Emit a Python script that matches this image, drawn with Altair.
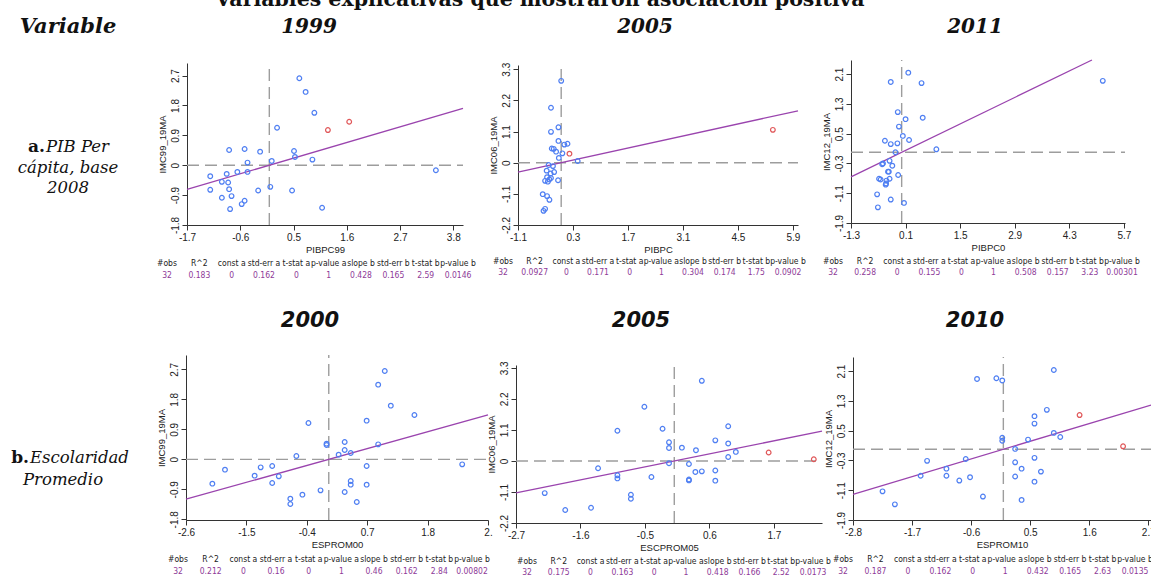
import altair as alt
import pandas as pd

# ---------------- data ----------------
HEADERS = ["#obs", "R^2", "const a", "std-err a", "t-stat a", "p-value a",
           "slope b", "std-err b", "t-stat b", "p-value b"]

MAIN_TITLE = "Variables explicativas que mostraron asociación positiva"
ROW1_YEARS = ["1999", "2005", "2011"]
ROW2_YEARS = ["2000", "2005", "2010"]

# Panel 1  (PIB 1999)
p1_x = [0.62, 0.75, 0.93, 1.65, 1.21, 0.16, -0.83, -0.51, -0.19, 0.51, 0.53, 0.89, 0.05, -0.45,
        -0.66, -0.45, -0.88, -1.22, -0.98, -0.85, -0.83, -1.22, -0.23, 0.02, 0.47, -0.98, -0.78,
        -0.51, -0.57, -0.81, 1.09, 3.44]
p1_y = [2.62, 2.21, 1.58, 1.31, 1.06, 1.13, 0.46, 0.49, 0.41, 0.43, 0.25, 0.17, 0.13, 0.08,
        -0.20, -0.20, -0.26, -0.33, -0.50, -0.52, -0.72, -0.74, -0.76, -0.65, -0.76, -0.98, -0.93,
        -1.07, -1.17, -1.32, -1.28, -0.15]
p1_red = [3, 4]
p1_stats = ["32", "0.183", "0", "0.162", "0", "1", "0.428", "0.165", "2.59", "0.0146"]

# Panel 2  (PIB 2005)
p2_x = [0.0, -0.26, -0.07, -0.26, -0.07, 0.16, 0.08, -0.24, -0.19, -0.13, 0.03, -0.06, 0.21, 0.42,
        -0.32, -0.21, -0.37, -0.18, -0.27, -0.36, -0.26, -0.30, -0.41, -0.34, -0.08, -0.47, -0.36,
        -0.30, -0.41, -0.45, 5.39]
p2_y = [2.89, 1.94, 1.25, 1.09, 0.77, 0.67, 0.64, 0.50, 0.49, 0.39, 0.33, 0.17, 0.32, 0.06,
        -0.08, -0.12, -0.28, -0.33, -0.38, -0.51, -0.54, -0.59, -0.64, -0.67, -0.62, -1.11, -1.18,
        -1.31, -1.63, -1.70, 1.16]
p2_red = [12, 30]
p2_stats = ["32", "0.0927", "0", "0.171", "0", "1", "0.304", "0.174", "1.75", "0.0902"]

# Panel 3  (PIB 2011)
p3_x = [0.17, -0.28, 0.51, 5.16, -0.10, 0.10, 0.54, -0.07, 0.03, -0.43, -0.28, -0.11, 0.19, 0.89,
        -0.16, -0.31, -0.48, -0.50, -0.24, -0.35, -0.33, -0.09, -0.58, -0.54, -0.31, -0.39, -0.40,
        -0.41, -0.63, -0.28, 0.06, -0.61]
p3_y = [2.14, 1.89, 1.86, 1.92, 1.08, 0.89, 0.93, 0.69, 0.44, 0.31, 0.22, 0.24, 0.33, 0.08,
        0.0, -0.23, -0.30, -0.32, -0.36, -0.52, -0.52, -0.61, -0.71, -0.73, -0.71, -0.76, -0.84,
        -0.87, -1.13, -1.27, -1.36, -1.48]
p3_red = []
p3_stats = ["32", "0.258", "0", "0.155", "0", "1", "0.508", "0.157", "3.23", "0.00301"]

# Panel 4  (Escolaridad 2000)
p4_x = [1.02, 0.90, 1.13, 1.56, 0.69, -0.37, 0.29, -0.04, -0.04, 0.90, 0.29, 0.40, 0.18, -0.59,
        -1.89, -1.24, -1.03, 0.69, -1.35, -0.91, -1.03, -2.12, 0.40, 0.40, 0.69, -0.15, 0.29,
        -0.48, -0.70, -0.70, 0.51, 2.43]
p4_y = [2.65, 2.24, 1.61, 1.33, 1.16, 1.09, 0.52, 0.47, 0.43, 0.45, 0.28, 0.19, 0.14, 0.10,
        -0.31, -0.24, -0.20, -0.20, -0.49, -0.51, -0.71, -0.73, -0.65, -0.76, -0.76, -0.93, -0.98,
        -1.06, -1.18, -1.34, -1.28, -0.15]
p4_red = []
p4_stats = ["32", "0.212", "0", "0.16", "0", "1", "0.46", "0.162", "2.84", "0.00802"]

# Panel 5  (Escolaridad 2005)
p5_x = [0.47, -0.51, -0.97, -0.20, 0.92, -0.09, -0.09, 0.13, 0.70, 0.92, 0.37, 0.92, 1.05, 1.61,
        -0.09, 0.25, -1.30, 0.36, 0.47, 0.70, -0.97, -0.97, -0.39, 0.25, 0.25, 0.70, -0.74, -0.74,
        -2.21, -1.42, -1.86, 2.38]
p5_y = [2.84, 1.92, 1.07, 1.14, 1.23, 0.66, 0.46, 0.47, 0.73, 0.62, 0.38, 0.14, 0.32, 0.30,
        -0.08, -0.11, -0.26, -0.39, -0.37, -0.34, -0.51, -0.62, -0.57, -0.66, -0.69, -0.70, -1.20,
        -1.34, -1.14, -1.66, -1.74, 0.06]
p5_red = [13, 31]
p5_stats = ["32", "0.175", "0", "0.163", "0", "1", "0.418", "0.166", "2.52", "0.0173"]

# Panel 6  (Escolaridad 2010)
p6_x = [0.94, -0.49, -0.13, -0.02, 0.81, 0.58, 0.58, -0.02, -0.02, 0.46, 0.94, 1.06, 1.42, 2.23,
        0.22, 0.58, -0.70, -1.42, 0.22, -1.06, 0.34, 0.70, -1.54, -1.06, 0.22, -0.62, -0.82, 0.58,
        -2.25, -0.38, 0.34, -2.02]
p6_y = [2.13, 1.89, 1.91, 1.85, 1.06, 0.89, 0.69, 0.31, 0.23, 0.26, 0.44, 0.33, 0.92, 0.08,
        0.01, -0.23, -0.26, -0.31, -0.35, -0.52, -0.52, -0.60, -0.71, -0.71, -0.73, -0.75, -0.84,
        -0.87, -1.13, -1.27, -1.36, -1.48]
p6_red = [12, 13]
p6_stats = ["32", "0.187", "0", "0.162", "0", "1", "0.432", "0.165", "2.63", "0.0135"]

# ---------------- styling ----------------
W, H = 1151, 576
BLUE = "#4f7ff2"
RED = "#e0585a"
PURPLE = "#9a44ae"
VALCOL = "#8e3a98"
DASH = "#9d9d9d"
SANS = "Liberation Sans"
NARROW = "Liberation Sans Narrow, DejaVu Sans Condensed, Liberation Sans"
SERIF = "DejaVu Serif"
LABEL_EXPR = "'' + datum.value"


def panel(xs, ys, reds, xdom, ydom, xticks, yticks, xtitle, ytitle, slope, stats,
          box, tbox, xlabel_expr=LABEL_EXPR):
    """box = (left, right, top, bottom) pixel area of the plot; tbox = (x0, x1, yh, yv)."""
    left, right, top, bottom = box
    cols = [RED if i in reds else BLUE for i in range(len(xs))]
    df = pd.DataFrame({"x": xs, "y": ys, "c": cols})
    xs_ = alt.Scale(domain=xdom, range=[left, right], nice=False, zero=False)
    ys_ = alt.Scale(domain=ydom, range=[bottom, top], nice=False, zero=False)
    xaxis = alt.Axis(values=xticks, title=xtitle, orient="bottom", offset=bottom - H,
                     labelExpr=xlabel_expr, tickSize=5, labelPadding=2, titlePadding=2,
                     labelFlush=False, labelOverlap=False)
    yaxis = alt.Axis(values=yticks, title=ytitle, orient="left", offset=-left,
                     labelExpr=LABEL_EXPR, tickSize=5, labelAngle=270, labelAlign="center",
                     labelBaseline="bottom", labelPadding=2, titlePadding=3,
                     labelFlush=False, labelOverlap=False)
    X = lambda f: alt.X(f, scale=xs_, axis=xaxis)
    Y = lambda f: alt.Y(f, scale=ys_, axis=yaxis)

    pts = alt.Chart(df).mark_point(shape="circle", filled=False, size=22, strokeWidth=1.2,
                                   opacity=1).encode(
        x=X("x:Q"), y=Y("y:Q"), color=alt.Color("c:N", scale=None))
    hline = alt.Chart(pd.DataFrame({"x": [xdom[0]], "x2": [xdom[1]], "y": [0.0]})).mark_rule(
        strokeDash=[12, 6], color=DASH, strokeWidth=1.4).encode(
        x=X("x:Q"), x2="x2:Q", y=Y("y:Q"))
    vline = alt.Chart(pd.DataFrame({"x": [0.0], "y": [ydom[0]], "y2": [ydom[1]]})).mark_rule(
        strokeDash=[12, 6], color=DASH, strokeWidth=1.4).encode(
        x=X("x:Q"), y=Y("y:Q"), y2="y2:Q")
    x_end = min(xdom[1], ydom[1] / slope)
    reg = alt.Chart(pd.DataFrame({"x": [xdom[0], x_end]})).transform_calculate(
        y=f"{slope} * datum.x").mark_line(color=PURPLE, strokeWidth=1.3).encode(
        x=X("x:Q"), y=Y("y:Q"))
    inner = alt.layer(hline, vline, reg, pts)

    tdf = pd.DataFrame({"k": HEADERS, "v": stats})
    tx = alt.X("k:N", scale=alt.Scale(domain=HEADERS, range=[tbox[0], tbox[1]], padding=0),
               axis=None)
    th = alt.Chart(tdf).mark_text(fontSize=8.5, font=NARROW, color="#222222").encode(
        x=tx, y=alt.value(tbox[2]), text="k:N")
    tv = alt.Chart(tdf).mark_text(fontSize=8.5, font=NARROW, color=VALCOL).encode(
        x=tx, y=alt.value(tbox[3]), text="v:N")
    return inner, th, tv


def txt(s, x, y, font, size, weight="normal", style="normal", align="center",
        baseline="middle"):
    return alt.Chart(pd.DataFrame({"t": [s]})).mark_text(
        font=font, fontSize=size, fontWeight=weight, fontStyle=style, align=align,
        baseline=baseline, color="#111111").encode(
        x=alt.value(x), y=alt.value(y), text="t:N")


p1 = panel(p1_x, p1_y, p1_red, [-1.7, 4.0], [-1.8, 3.08], [-1.7, -0.6, 0.5, 1.6, 2.7, 3.8],
           [-1.8, -0.9, 0, 0.9, 1.8, 2.7], "PIBPC99", "IMC99_19MA", 0.428, p1_stats,
           (187, 463, 63, 225), (167, 458, 263, 275))
p2 = panel(p2_x, p2_y, p2_red, [-1.1, 6.03], [-2.2, 3.45], [-1.1, 0.3, 1.7, 3.1, 4.5, 5.9],
           [-2.2, -1.1, 0, 1.1, 2.2, 3.3], "PIBPC", "IMC06_19MA", 0.304, p2_stats,
           (518, 798, 65, 225), (503, 788, 261, 272))
p3 = panel(p3_x, p3_y, p3_red, [-1.3, 5.73], [-1.9, 2.48], [-1.3, 0.1, 1.5, 2.9, 4.3, 5.7],
           [-1.9, -1.1, -0.3, 0.5, 1.3, 2.1], "PIBPC0", "IMC12_19MA", 0.508, p3_stats,
           (851, 1125, 60, 223), (833, 1122, 261, 272))
p4 = panel(p4_x, p4_y, p4_red, [-2.6, 2.9], [-1.82, 3.13], [-2.6, -1.5, -0.4, 0.7, 1.8, 2.9],
           [-1.8, -0.9, 0, 0.9, 1.8, 2.7], "ESPROM00", "IMC99_19MA", 0.46, p4_stats,
           (186, 488, 355, 520), (178, 472, 559, 571),
           xlabel_expr="datum.value == 2.9 ? '2.' : '' + datum.value")
p5 = panel(p5_x, p5_y, p5_red, [-2.7, 2.52], [-2.2, 3.4], [-2.7, -1.6, -0.5, 0.6, 1.7],
           [-2.2, -1.1, 0, 1.1, 2.2, 3.3], "ESCPROM05", "IMC06_19MA", 0.418, p5_stats,
           (516, 822, 365, 523), (527, 813, 561, 572))
p6 = panel(p6_x, p6_y, p6_red, [-2.8, 2.75], [-1.9, 2.48], [-2.8, -1.7, -0.6, 0.5, 1.6, 2.7],
           [-1.9, -1.1, -0.3, 0.5, 1.3, 2.1], "ESPROM10", "IMC12_19MA", 0.432, p6_stats,
           (853, 1151, 357, 520), (843, 1135, 559, 571))

HEAD1 = dict(font=SERIF, size=20, weight="bold", style="italic", baseline="alphabetic")
HEAD2 = dict(font="DejaVu Sans", size=21, weight="bold", style="italic", baseline="alphabetic")

texts = [
    txt(MAIN_TITLE, 540, 6, SERIF, 20.5, weight="bold", baseline="alphabetic"),
    txt("Variable", 68, 33, font=SERIF, size=21, weight="bold", style="italic",
        baseline="alphabetic"),
    txt(ROW1_YEARS[0], 309, 33, **HEAD1),
    txt(ROW1_YEARS[1], 645, 33, **HEAD1),
    txt(ROW1_YEARS[2], 975, 33, **HEAD1),
    txt(ROW2_YEARS[0], 310, 327, **HEAD2),
    txt(ROW2_YEARS[1], 641, 327, **HEAD2),
    txt(ROW2_YEARS[2], 975, 327, **HEAD2),
    txt("a.", 45, 147, SERIF, 17, weight="bold", align="right"),
    txt("PIB Per", 46, 147, SERIF, 16.5, style="italic", align="left"),
    txt("cápita, base", 68, 168, SERIF, 16.5, style="italic"),
    txt("2008", 68, 188, SERIF, 16.5, style="italic"),
    txt("b.", 29, 458, SERIF, 17, weight="bold", align="right"),
    txt("Escolaridad", 30, 458, SERIF, 16.5, style="italic", align="left"),
    txt("Promedio", 63, 480, SERIF, 16.5, style="italic"),
]

layers = []
for p in (p1, p2, p3, p4, p5, p6):
    layers.extend(p)
layers.extend(texts)

chart = alt.layer(*layers).resolve_scale(x="independent", y="independent").properties(
    width=W, height=H, padding=0, background="white",
    autosize=alt.AutoSizeParams(type="none"),
).configure_view(strokeWidth=0).configure_axis(
    grid=False, domainColor="#333333", tickColor="#333333", labelColor="#222222",
    titleColor="#222222", labelFont=SANS, titleFont=SANS, labelFontSize=10,
    titleFontSize=9.5, titleFontWeight="normal", domainWidth=1, tickWidth=1,
)

chart.save("out.html", embed_options={"renderer": "svg", "actions": False})
